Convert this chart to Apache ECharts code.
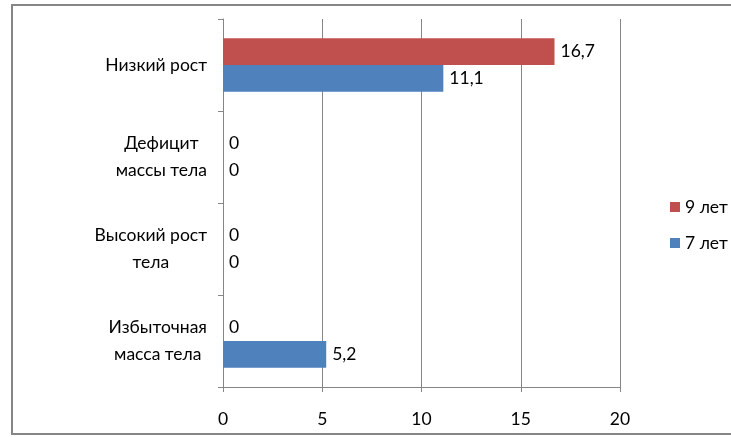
<!DOCTYPE html>
<html>
<head>
<meta charset="utf-8">
<script src="https://cdn.jsdelivr.net/npm/echarts@6/dist/echarts.min.js"></script>
<style>
  html, body { margin: 0; padding: 0; background: #fff; }
  #chart { width: 731px; height: 437px; }
</style>
</head>
<body>
<div id="chart"></div>
<script>
// Categories, top to bottom
const categories = ['Низкий рост', 'Дефицит\nмассы тела', 'Высокий рост\nтела', 'Избыточная\nмасса тела'];
// Share of children, %
const age9 = [16.7, 0, 0, 0];
const age7 = [11.1, 0, 0, 5.2];
const seriesNames = ['9 лет', '7 лет'];
const xTicks = [0, 5, 10, 15, 20];

const FONT = 'Lato';
const FS = 17.5;
const GRAY = '#868686';
const fmt = v => String(v).replace('.', ',');

const chart = echarts.init(document.getElementById('chart'), null, { renderer: 'canvas' });

const labelStyle = {
  show: true,
  position: 'right',
  distance: 6,
  color: '#000',
  fontFamily: FONT,
  fontSize: FS,
  formatter: p => fmt(p.value)
};

chart.setOption({
  animation: false,
  backgroundColor: '#fff',
  textStyle: { fontFamily: FONT },
  graphic: [{
    type: 'rect',
    shape: { x: 12, y: 5, width: 740, height: 429 },
    style: { fill: 'none', stroke: GRAY, lineWidth: 2 },
    silent: true,
    z: -1
  }],
  grid: { left: 223, right: 111, top: 19, bottom: 50, containLabel: false },
  legend: {
    data: seriesNames,
    orient: 'vertical',
    left: 665,
    top: 193,
    icon: 'rect',
    itemWidth: 10,
    itemHeight: 10,
    itemGap: 18,
    textStyle: { fontFamily: FONT, fontSize: FS, color: '#000' }
  },
  xAxis: {
    type: 'value',
    min: xTicks[0],
    max: xTicks[xTicks.length - 1],
    interval: xTicks[1] - xTicks[0],
    axisLine: { show: true, lineStyle: { color: GRAY, width: 1 } },
    axisTick: { show: true, length: 5, lineStyle: { color: GRAY } },
    splitLine: { show: true, lineStyle: { color: GRAY, width: 1 } },
    axisLabel: { color: '#000', fontFamily: FONT, fontSize: FS, margin: 23, formatter: v => fmt(v) }
  },
  yAxis: {
    type: 'category',
    data: categories,
    inverse: true,
    axisLine: { show: true, lineStyle: { color: GRAY, width: 1 } },
    axisTick: { show: true, length: 5, lineStyle: { color: GRAY } },
    axisLabel: {
      margin: 16,
      color: '#000',
      fontFamily: FONT,
      fontSize: FS,
      lineHeight: 27,
      formatter: v => v.split('\n').map(l => '{c|' + l + '}').join('\n'),
      rich: { c: { align: 'center', fontFamily: FONT, fontSize: FS, lineHeight: 27, color: '#000' } }
    }
  },
  series: [
    {
      name: seriesNames[0],
      type: 'bar',
      data: age9,
      itemStyle: { color: '#C0504D' },
      barGap: '0%',
      barCategoryGap: '42%',
      label: labelStyle
    },
    {
      name: seriesNames[1],
      type: 'bar',
      data: age7,
      itemStyle: { color: '#4F81BD' },
      barGap: '0%',
      barCategoryGap: '42%',
      label: labelStyle
    }
  ]
});
</script>
</body>
</html>
